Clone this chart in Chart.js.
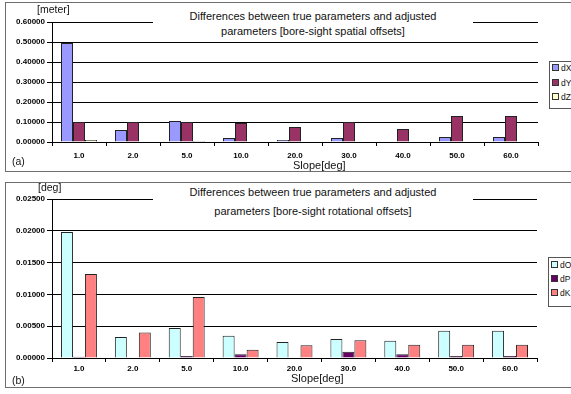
<!DOCTYPE html>
<html>
<head>
<meta charset="utf-8">
<script src="https://cdn.jsdelivr.net/npm/chart.js@4/dist/chart.umd.min.js"></script>
<style>
  html, body { margin: 0; padding: 0; background: #fff; }
  body { width: 571px; height: 394px; position: relative; overflow: hidden;
         font-family: "Liberation Sans", Arial, sans-serif; color: #111; }
  .panel { position: absolute; border: 1px solid #6e6e6e; box-sizing: border-box; }
  canvas { position: absolute; }
  .title { position: absolute; background: #fff; text-align: center;
           font-size: 11px; line-height: 15px; z-index: 3; padding-top: 3px; box-sizing: border-box; }
  .lab { position: absolute; font-size: 10.5px; white-space: nowrap; z-index: 3; }
  .legend { position: absolute; border: 1px solid #555; background: #fff; z-index: 3;
            box-sizing: border-box; }
  .legend div { position: absolute; left: 2px; font-size: 8.5px; line-height: 10px; white-space: nowrap; }
  .legend span { display: inline-block; width: 5px; height: 5px; border: 1px solid #333;
                 margin-right: 2px; vertical-align: 0px; }
</style>
</head>
<body>
<div class="panel" style="left:5px; top:2px; width:580px; height:170px;"></div>
<div class="panel" style="left:5px; top:182px; width:580px; height:206px;"></div>

<canvas id="spatial" width="571" height="172" style="left:0; top:0;"></canvas>
<canvas id="rotational" width="571" height="205" style="left:0; top:182px;"></canvas>

<div class="title" style="left:153px; top:6px; width:320px; height:34px;">
  Differences between true parameters and adjusted<br>parameters [bore-sight spatial offsets]</div>
<div class="lab" style="left:37px; top:3px;">[meter]</div>
<div class="lab" style="left:12px; top:155px;">(a)</div>
<div class="lab" style="left:293px; top:159px; font-size:11px;">Slope[deg]</div>
<div class="legend" style="left:549px; top:61px; width:40px; height:48px;" id="legA"></div>

<div class="title" style="left:153px; top:183px; width:320px; height:38px; line-height:19px; padding-top:0;">
  Differences between true parameters and adjusted<br>parameters [bore-sight rotational offsets]</div>
<div class="lab" style="left:38px; top:181px;">[deg]</div>
<div class="lab" style="left:12px; top:374px;">(b)</div>
<div class="lab" style="left:291px; top:372px; font-size:11px;">Slope[deg]</div>
<div class="legend" style="left:548px; top:257px; width:40px; height:50px;" id="legB"></div>

<script>
// Slope categories shared by both panels
const slopes = ['1.0', '2.0', '5.0', '10.0', '20.0', '30.0', '40.0', '50.0', '60.0'];

// Spatial offsets [meter]
const dX = [0.495, 0.060, 0.105, 0.020, 0.010, 0.020, 0.000, 0.025, 0.025];
const dY = [0.100, 0.100, 0.100, 0.095, 0.075, 0.100, 0.065, 0.130, 0.130];
const dZ = [0.010, 0.000, 0.005, 0.000, 0.003, 0.000, 0.003, 0.003, 0.003];

// Rotational offsets [deg]
const dO = [0.0198, 0.0033, 0.0047, 0.0035, 0.0025, 0.0030, 0.0027, 0.0043, 0.0043];
const dP = [0.0002, 0.0000, 0.0003, 0.0006, 0.0000, 0.0010, 0.0006, 0.0003, 0.0003];
const dK = [0.0132, 0.0040, 0.0096, 0.0013, 0.0020, 0.0028, 0.0021, 0.0021, 0.0021];

const spatialNames = ['dX', 'dY', 'dZ'];
const spatialColors = ['#9999FF', '#993366', '#FFFFCC'];
const rotNames = ['dO', 'dP', 'dK'];
const rotColors = ['#CCFFFF', '#660066', '#FF8080'];

const tickFont = { family: '"Liberation Sans", Arial, sans-serif', size: 8, weight: 'bold' };

function makeDatasets(names, colors, series) {
  return names.map((n, i) => ({
    label: n,
    data: series[i],
    backgroundColor: colors[i],
    borderColor: '#222',
    borderWidth: 1,
    categoryPercentage: 0.667,
    barPercentage: 1.0
  }));
}

function makeChart(id, datasets, yMax, yStep, pad, xHeight, xPad) {
  return new Chart(document.getElementById(id), {
    type: 'bar',
    data: { labels: slopes, datasets },
    options: {
      responsive: false,
      animation: false,
      layout: { padding: pad },
      plugins: { legend: { display: false }, tooltip: { enabled: false } },
      scales: {
        x: {
          offset: true,
          grid: { offset: true, drawOnChartArea: false, tickLength: 4, color: '#000' },
          border: { color: '#000' },
          ticks: { font: tickFont, color: '#000', padding: xPad, maxRotation: 0 },
          afterFit: s => { s.height = xHeight; }
        },
        y: {
          min: 0, max: yMax,
          grid: { color: '#000', tickLength: 5 },
          border: { color: '#000' },
          ticks: { stepSize: yStep, font: tickFont, color: '#000', padding: 2,
                   callback: v => v.toFixed(5) },
          afterFit: s => { s.width = 52; }
        }
      }
    }
  });
}

makeChart('spatial', makeDatasets(spatialNames, spatialColors, [dX, dY, dZ]),
          0.6, 0.1, { left: 0, right: 33, top: 22, bottom: 0 }, 30, 5);
makeChart('rotational', makeDatasets(rotNames, rotColors, [dO, dP, dK]),
          0.025, 0.005, { left: 0, right: 34, top: 17, bottom: 0 }, 29, 2);

// Legends built from the series names and colours
function buildLegend(el, names, colors, tops) {
  names.forEach((n, i) => {
    const d = document.createElement('div');
    d.style.top = tops[i] + 'px';
    d.innerHTML = '<span style="background:' + colors[i] + '"></span>' + n;
    el.appendChild(d);
  });
}
buildLegend(document.getElementById('legA'), spatialNames, spatialColors, [1, 16, 30]);
buildLegend(document.getElementById('legB'), rotNames, rotColors, [2, 16, 30]);
</script>
</body>
</html>
